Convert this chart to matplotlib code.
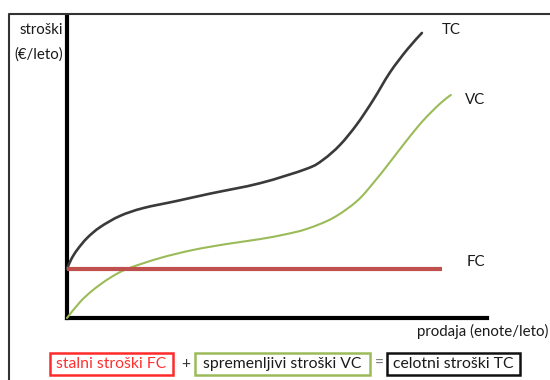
import matplotlib
matplotlib.use("Agg")
import matplotlib.pyplot as plt
from matplotlib.lines import Line2D
from matplotlib.patches import Rectangle, PathPatch
from matplotlib.path import Path

# ---- data (sales in % of axis length, costs in % of axis height) ----
tc_x = [0, 1.0, 2.4, 4.8, 7.9, 12.6, 18.1, 26.2, 34.0, 46.0, 57.1, 61.0, 65.0, 69.0, 72.9, 76.9, 81.0, 84.5]
tc_y = [16.3, 19.5, 22.6, 26.6, 30.2, 33.9, 36.5, 38.9, 41.3, 44.8, 49.6, 52.6, 57.5, 64.3, 72.4, 81.6, 89.2, 94.7]

vc_x = [0, 3.1, 6.2, 10.2, 14.3, 22.1, 30.0, 38.1, 45.9, 52.0, 57.1, 63.3, 69.0, 72.9, 76.9, 81.0, 84.8, 88.8, 91.4]
vc_y = [0, 5.3, 9.3, 13.3, 16.3, 19.9, 22.6, 24.6, 26.2, 27.8, 29.6, 33.2, 38.8, 44.8, 51.8, 59.2, 65.6, 71.2, 74.1]

fc_x = [0, 89.3]
fc_y = [16.3, 16.3]

curve_labels = ["TC", "VC", "FC"]
y_label = ["stroški", "(€/leto)"]
x_label = "prodaja (enote/leto)"
box_texts = ["stalni stroški FC", "spremenljivi stroški VC", "celotni stroški TC"]
ops = ["+", "="]

FONT = "Lato"
W, H = 550, 380

fig = plt.figure(figsize=(5.5, 3.8), dpi=100)
fig.patch.set_facecolor("white")

def fx(px):
    return px / W

def fy(py):
    return 1 - py / H

def smooth_path(xs, ys):
    """Catmull-Rom spline through the points, drawn as cubic Bezier segments."""
    pts = list(zip(xs, ys))
    n = len(pts)
    verts = [pts[0]]
    codes = [Path.MOVETO]
    for i in range(n - 1):
        p0 = pts[i - 1] if i > 0 else pts[i]
        p1 = pts[i]
        p2 = pts[i + 1]
        p3 = pts[i + 2] if i + 2 < n else pts[i + 1]
        c1 = (p1[0] + (p2[0] - p0[0]) / 6, p1[1] + (p2[1] - p0[1]) / 6)
        c2 = (p2[0] - (p3[0] - p1[0]) / 6, p2[1] - (p3[1] - p1[1]) / 6)
        verts += [c1, c2, p2]
        codes += [Path.CURVE4] * 3
    return Path(verts, codes)

ax = fig.add_axes([fx(67), fy(318), (487 - 67) / W, (318 - 17) / H])
ax.set_xlim(0, 100)
ax.set_ylim(0, 100)
ax.set_facecolor("none")
for s in ["top", "right"]:
    ax.spines[s].set_visible(False)
for s in ["left", "bottom"]:
    ax.spines[s].set_linewidth(3)
    ax.spines[s].set_color("black")
    ax.spines[s].set_capstyle("projecting")
ax.set_xticks([])
ax.set_yticks([])

ax.add_patch(PathPatch(smooth_path(vc_x, vc_y), fill=False, ec="#9bbb59", lw=1.5,
                       capstyle="round", zorder=3, clip_on=False))
ax.add_patch(PathPatch(smooth_path(tc_x, tc_y), fill=False, ec="#3a3a3a", lw=1.9,
                       capstyle="round", zorder=3, clip_on=False))
ax.plot(fc_x, fc_y, color="#c0504d", lw=3, solid_capstyle="butt", zorder=4)

# outer frame (top and left edges visible)
fig.add_artist(Line2D([fx(9), fx(9), fx(W)], [fy(H), fy(14), fy(14)],
                      color="#333333", lw=1.5, transform=fig.transFigure))

txt_col = "#1a1a1a"
fs = 10.8
fb = 11.3
# curve labels
fig.text(fx(442), fy(30), curve_labels[0], ha="left", va="center", fontsize=fs, family=FONT, color=txt_col)
fig.text(fx(465), fy(100), curve_labels[1], ha="left", va="center", fontsize=fs, family=FONT, color=txt_col)
fig.text(fx(467), fy(262), curve_labels[2], ha="left", va="center", fontsize=fs, family=FONT, color=txt_col)

# axis labels
fig.text(fx(63), fy(30), y_label[0], ha="right", va="center", fontsize=fs, family=FONT, color=txt_col)
fig.text(fx(63), fy(55), y_label[1], ha="right", va="center", fontsize=fs, family=FONT, color=txt_col)
fig.text(fx(548), fy(331), x_label, ha="right", va="center", fontsize=fs, family=FONT, color=txt_col)

# boxes at the bottom
boxes = [(50, 173, "#ff2a2a", "#ff3030"), (195, 370, "#9bbb59", txt_col), (387, 520, "#111111", txt_col)]
for (x0, x1, ec, tc), t in zip(boxes, box_texts):
    fig.add_artist(Rectangle((fx(x0), fy(375)), (x1 - x0) / W, (375 - 353) / H,
                             transform=fig.transFigure, fill=False, ec=ec, lw=1.8))
    fig.text(fx((x0 + x1) / 2), fy(364), t, ha="center", va="center",
             fontsize=fb, family=FONT, color=tc)
fig.text(fx(186), fy(364), ops[0], ha="center", va="center", fontsize=fb, family=FONT, color="#333333")
fig.text(fx(379), fy(364), ops[1], ha="center", va="center", fontsize=fb, family=FONT, color="#777777")

fig.savefig("out.png", dpi=100, facecolor="white")
